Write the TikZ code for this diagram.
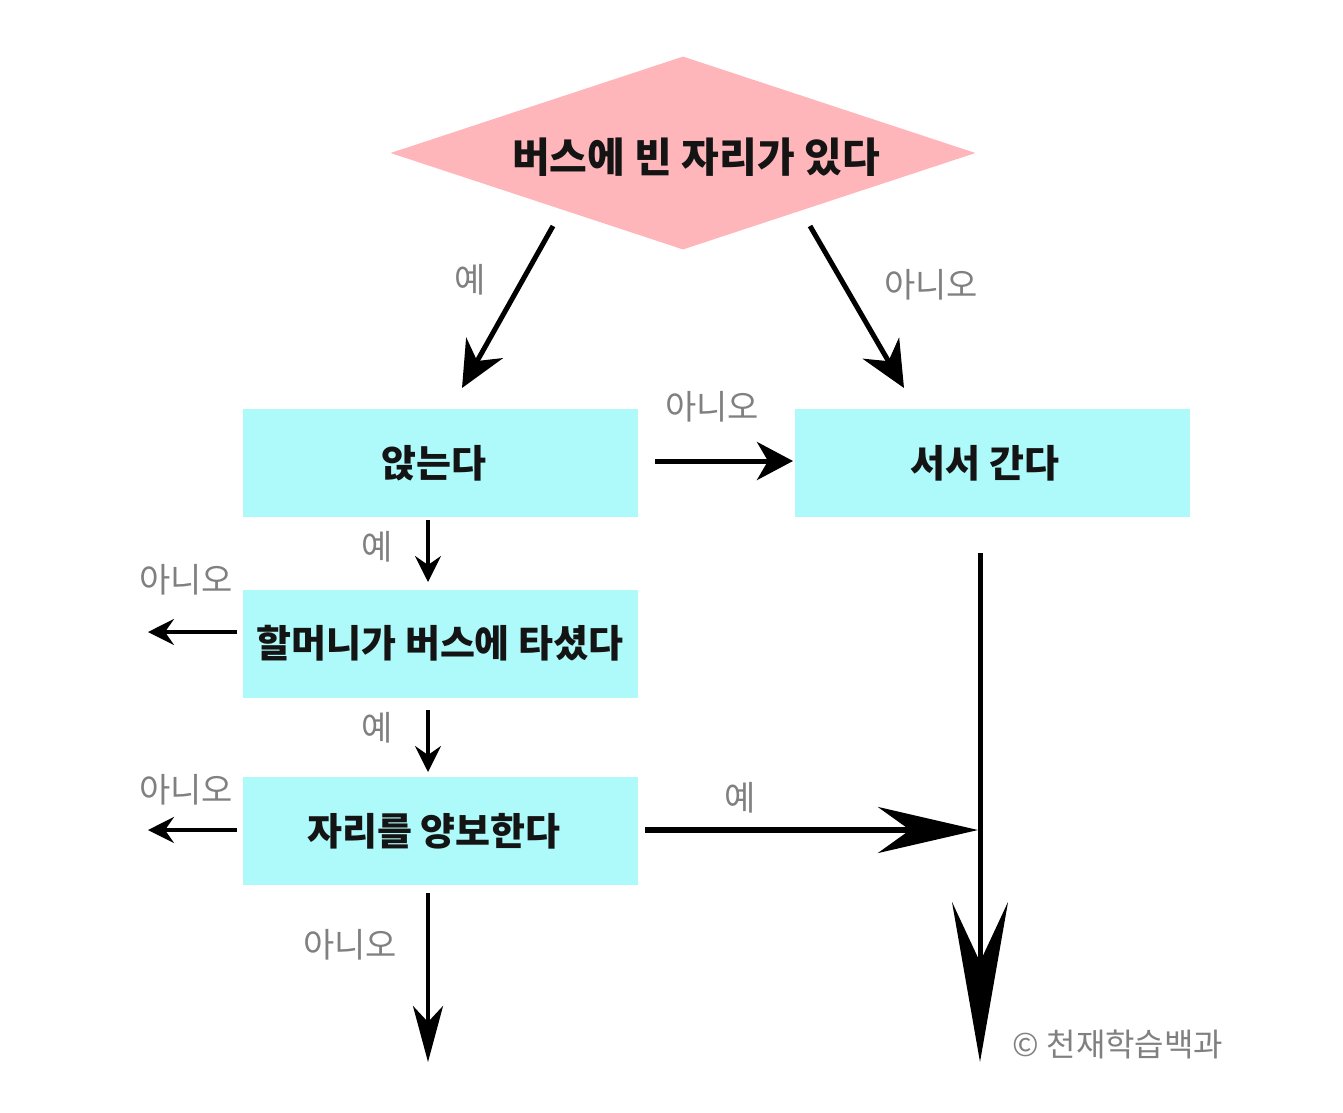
\documentclass[tikz,border=0pt]{standalone}
\usepackage{fontspec}
\setmainfont{Noto Sans CJK KR}
\usetikzlibrary{arrows.meta,shapes.geometric}
\definecolor{pinkfill}{RGB}{255,182,186}
\definecolor{cyanfill}{RGB}{174,250,250}
\definecolor{lblgray}{RGB}{128,128,128}
\definecolor{txtdark}{RGB}{20,20,20}
\begin{document}
\begin{tikzpicture}[x=1pt,y=-1pt,
  boxstyle/.style={fill=cyanfill,draw=none,minimum width=395pt,minimum height=108pt,inner sep=0pt},
  boxtext/.style={text=txtdark,font=\fontsize{38}{40}\selectfont\bfseries,inner sep=0pt},
  lbl/.style={text=lblgray,font=\fontsize{34}{36}\selectfont,inner sep=0pt},
  thickarr/.style={line width=5pt,-{Stealth[length=46pt,width=42pt,inset=15pt]}},
  thinarr/.style={line width=3.5pt,-{Stealth[length=26pt,width=26pt,inset=9pt]}}]
\useasboundingbox (0,0) rectangle (1343,1112);
% diamond
\node[fill=pinkfill,draw=none,diamond,minimum width=585pt,minimum height=193pt,inner sep=0pt,aspect=3] (d) at (683,153) {};
\node[text=txtdark,font=\fontsize{41}{44}\selectfont\bfseries,inner sep=0pt] (dt) at (696,157) {버스에 빈 자리가 있다};
% boxes
\node[boxstyle] (b1) at (440.5,463) {};
\node[boxtext] (b1t) at (434,463) {앉는다};
\node[boxstyle] (b2) at (992.5,463) {};
\node[boxtext] (b2t) at (985,463) {서서 간다};
\node[boxstyle] (b3) at (440.5,643.5) {};
\node[boxtext] (b3t) at (440,643) {할머니가 버스에 타셨다};
\node[boxstyle] (b4) at (440.5,831) {};
\node[boxtext] (b4t) at (434,831) {자리를 양보한다};
% coordinates
\coordinate (a1s) at (553,226); \coordinate (a1e) at (462,388);
\coordinate (a2s) at (810,226); \coordinate (a2e) at (904,388);
\coordinate (a3s) at (655,461); \coordinate (a3e) at (793,461);
\coordinate (a4s) at (428,520); \coordinate (a4e) at (428,582);
\coordinate (a5s) at (237,632); \coordinate (a5e) at (148,632);
\coordinate (a6s) at (428,710); \coordinate (a6e) at (428,772);
\coordinate (a7s) at (237,830); \coordinate (a7e) at (148,830);
\coordinate (a8s) at (645,830); \coordinate (a8e) at (978,830);
\coordinate (a9s) at (428,893); \coordinate (a9e) at (428,1062);
\coordinate (a10s) at (980,553); \coordinate (a10e) at (980,1062);
% arrows
\draw[thickarr] (a1s) -- (a1e);
\draw[thickarr] (a2s) -- (a2e);
\draw[line width=5pt,-{Stealth[length=36pt,width=38pt,inset=11pt]}] (a3s) -- (a3e);
\draw[thinarr] (a4s) -- (a4e);
\draw[thinarr] (a5s) -- (a5e);
\draw[thinarr] (a6s) -- (a6e);
\draw[thinarr] (a7s) -- (a7e);
\draw[line width=6pt,-{Stealth[length=100pt,width=46pt,inset=32pt]}] (a8s) -- (a8e);
\draw[line width=4pt,-{Stealth[length=56pt,width=30pt,inset=16pt]}] (a9s) -- (a9e);
\draw[line width=5pt,-{Stealth[length=160pt,width=56pt,inset=60pt]}] (a10s) -- (a10e);
% labels
\node[lbl] (l1) at (470,280) {예};
\node[lbl] (l2) at (931,285) {아니오};
\node[lbl] (l3) at (712,407) {아니오};
\node[lbl] (l4) at (377,547) {예};
\node[lbl] (l5) at (186,580) {아니오};
\node[lbl] (l6) at (377,728) {예};
\node[lbl] (l7) at (186,790) {아니오};
\node[lbl] (l8) at (740,798) {예};
\node[lbl] (l9) at (350,945) {아니오};
\node[text=lblgray,font=\fontsize{32}{34}\selectfont,inner sep=0pt] (cp) at (1118,1044) {© 천재학습백과};
\end{tikzpicture}
\end{document}
